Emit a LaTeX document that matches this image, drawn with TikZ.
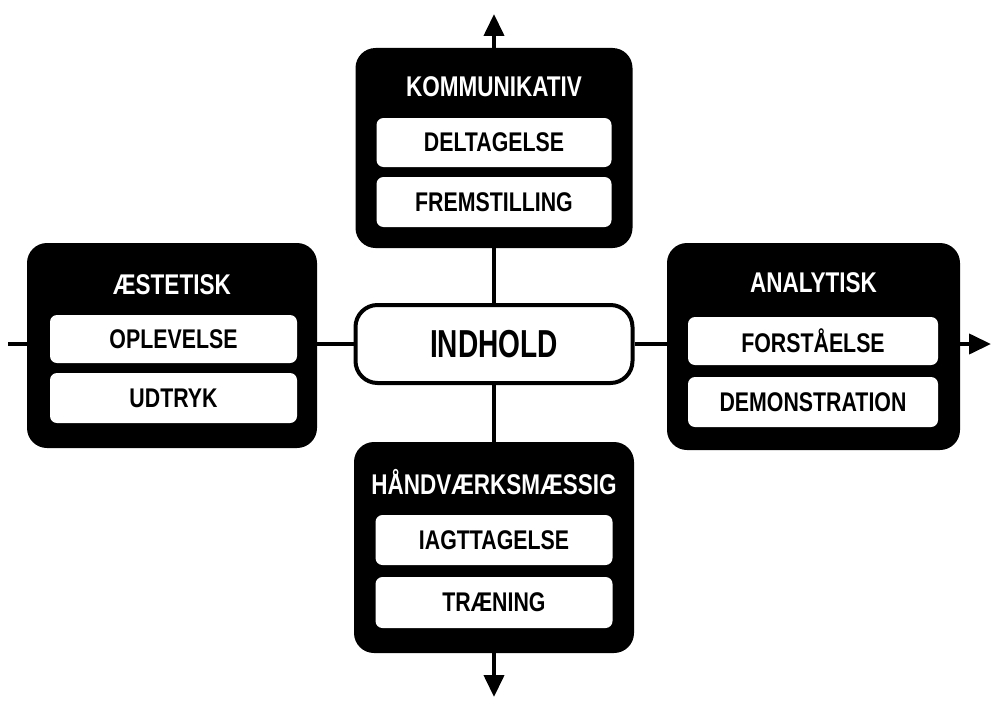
\documentclass[tikz,border=0pt]{standalone}
\usepackage{fontspec}
\setmainfont{Liberation Sans}[FakeStretch=0.72]
\newfontfamily\widerfont{Liberation Sans}[FakeStretch=0.79]
\usetikzlibrary{arrows.meta}
\tikzset{
  darkbox/.style={draw=none,fill=black,rounded corners=20pt,inner sep=0pt},
  litebox/.style={draw=none,fill=white,rounded corners=7pt,inner sep=0pt,font=\widerfont\bfseries\fontsize{27}{29}\selectfont,text=black},
  ttl/.style={inner sep=0pt,text=white,font=\widerfont\bfseries\fontsize{28.5}{30}\selectfont},
  centerbox/.style={draw=black,line width=4pt,fill=white,rounded corners=22pt,inner sep=0pt,font=\bfseries\fontsize{39}{41}\selectfont},
  conn/.style={line width=4pt},
  arr/.style={line width=4pt,-{Triangle[length=22pt,width=20pt]}}
}
\begin{document}
\begin{tikzpicture}[x=1pt,y=-1pt]
\useasboundingbox (0,0) rectangle (992,725);
% INDHOLD
\node[centerbox,minimum width=277pt,minimum height=78pt] (ind) at (494,344) {INDHOLD};
% top
\node[darkbox,minimum width=277pt,minimum height=200pt] (komm) at (494,148) {};
\node[ttl] (kommt) at (494,87) {KOMMUNIKATIV};
\node[litebox,minimum width=235pt,minimum height=49pt] (delt) at (494,142.5) {DELTAGELSE};
\node[litebox,minimum width=235pt,minimum height=50pt] (frem) at (494,202) {FREMSTILLING};
% left
\node[darkbox,minimum width=290pt,minimum height=205pt] (aest) at (172,345.5) {};
\node[ttl] (aestt) at (172,285) {ÆSTETISK};
\node[litebox,minimum width=247pt,minimum height=48pt] (ople) at (173.5,339) {OPLEVELSE};
\node[litebox,minimum width=247pt,minimum height=50pt] (udtr) at (173.5,398) {UDTRYK};
% right
\node[darkbox,minimum width=293pt,minimum height=207pt] (anal) at (813.5,346.5) {};
\node[ttl] (analt) at (813.5,283) {ANALYTISK};
\node[litebox,minimum width=250pt,minimum height=48pt] (fors) at (813,341) {FORSTÅELSE};
\node[litebox,minimum width=250pt,minimum height=50pt] (demo) at (813,402) {DEMONSTRATION};
% bottom
\node[darkbox,minimum width=280pt,minimum height=211pt] (haan) at (494,547.5) {};
\node[ttl] (haant) at (494,482) {HÅNDVÆRKSMÆSSIG};
\node[litebox,minimum width=237pt,minimum height=50pt] (iagt) at (494,540) {IAGTTAGELSE};
\node[litebox,minimum width=237pt,minimum height=51pt] (trae) at (494,602.5) {TRÆNING};
% free ends
\coordinate (topend) at (494,14);
\coordinate (botend) at (494,697);
\coordinate (leftend) at (8,344);
\coordinate (rightend) at (991,344);
% connectors
\draw[arr] (komm.north) -- (topend);
\draw[conn] (komm.south) -- (ind.north);
\draw[conn] (ind.south) -- (haan.north);
\draw[arr] (haan.south) -- (botend);
\draw[conn] (leftend) -- (leftend -| aest.west);
\draw[conn] (ind.west -| aest.east) -- (ind.west);
\draw[conn] (ind.east) -- (ind.east -| anal.west);
\draw[arr] (rightend -| anal.east) -- (rightend);
\end{tikzpicture}
\end{document}
